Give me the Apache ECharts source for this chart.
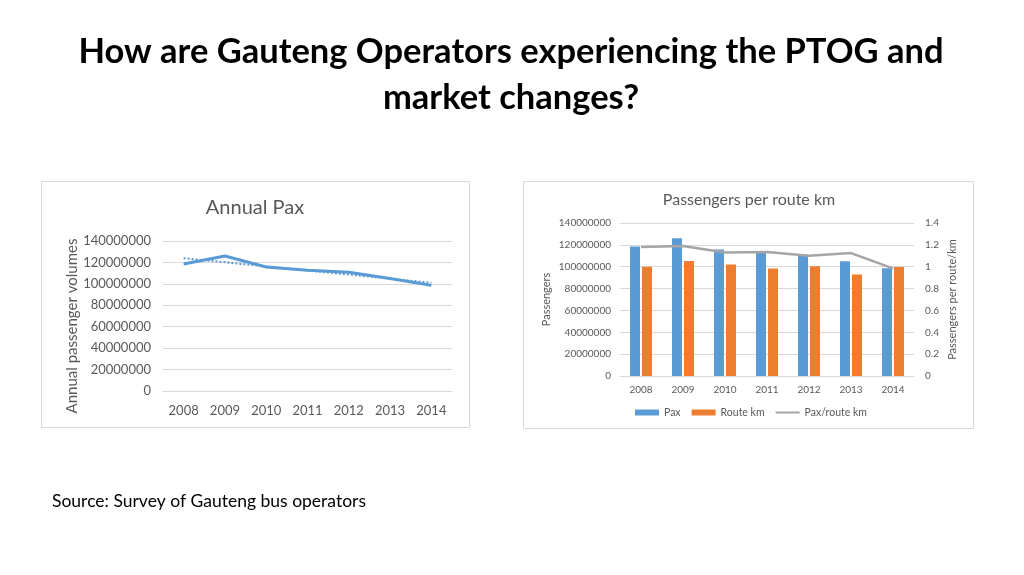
<!DOCTYPE html>
<html>
<head>
<meta charset="utf-8">
<script src="https://cdn.jsdelivr.net/npm/echarts@6/dist/echarts.min.js"></script>
<style>
  html, body { margin: 0; padding: 0; background: #fff; }
  #main { width: 1024px; height: 575px; }
</style>
</head>
<body>
<div id="main"></div>
<script>
// data
var years = ['2008', '2009', '2010', '2011', '2012', '2013', '2014'];
var pax = [118600000, 126000000, 115800000, 112700000, 110900000, 105000000, 98600000];
var routeKm = [100000000, 105300000, 102000000, 98300000, 100500000, 92800000, 99800000];
var paxPerKm = [1.18, 1.19, 1.13, 1.135, 1.10, 1.125, 0.985];
// dotted trend line: only its two end points
var paxTrend = [124000000, '-', '-', '-', '-', '-', 101000000];

var font = 'Lato, "Open Sans", sans-serif';
var grey = '#595959';
var gridLine = '#d9d9d9';

function plain(v) { return String(v); }

var myChart = echarts.init(document.getElementById('main'));

var option = {
    backgroundColor: '#fff',
    animation: false,
    textStyle: { fontFamily: font },
    graphic: [
        { type: 'rect', shape: { x: 41.5, y: 181.5, width: 428, height: 246 },
          style: { fill: '#fff', stroke: gridLine, lineWidth: 1 }, z: -10 },
        { type: 'rect', shape: { x: 523.5, y: 181.5, width: 450, height: 247 },
          style: { fill: '#fff', stroke: gridLine, lineWidth: 1 }, z: -10 }
    ],
    title: [
        {
            text: 'How are Gauteng Operators experiencing the PTOG and\nmarket changes?',
            left: 506, top: 24, textAlign: 'center',
            textStyle: { fontFamily: font, fontWeight: 'bold', fontSize: 34.5, lineHeight: 46, color: '#000' }
        },
        {
            text: 'Annual Pax',
            left: 250, top: 191, textAlign: 'center',
            textStyle: { fontFamily: font, fontWeight: 'normal', fontSize: 20, lineHeight: 24, color: grey }
        },
        {
            text: 'Passengers per route km',
            left: 744, top: 185, textAlign: 'center',
            textStyle: { fontFamily: font, fontWeight: 'normal', fontSize: 16, lineHeight: 20, color: grey }
        },
        {
            text: 'Source: Survey of Gauteng bus operators',
            left: 47, top: 486,
            textStyle: { fontFamily: font, fontWeight: 'normal', fontSize: 17.5, lineHeight: 20, color: '#000' }
        }
    ],
    legend: {
        data: [
            { name: 'Pax', icon: 'rect' },
            { name: 'Route km', icon: 'rect' },
            { name: 'Pax/route km', icon: 'path://M0,0L24,0L24,2L0,2Z' }
        ],
        left: 630, top: 402,
        itemWidth: 24, itemHeight: 6, itemGap: 11,
        textStyle: { fontFamily: font, fontSize: 10.5, color: grey }
    },
    grid: [
        { left: 163, top: 241, width: 289, height: 150 },
        { left: 620, top: 223, width: 294, height: 153 }
    ],
    xAxis: [
        {
            type: 'category', gridIndex: 0, data: years,
            axisLine: { lineStyle: { color: gridLine } },
            axisTick: { show: false },
            axisLabel: { color: grey, fontSize: 13, margin: 13 }
        },
        {
            type: 'category', gridIndex: 1, data: years,
            axisLine: { lineStyle: { color: gridLine } },
            axisTick: { show: false },
            axisLabel: { color: grey, fontSize: 10, margin: 9 }
        }
    ],
    yAxis: [
        {
            type: 'value', gridIndex: 0, min: 0, max: 140000000, interval: 20000000,
            name: 'Annual passenger volumes', nameLocation: 'middle', nameGap: 82,
            nameTextStyle: { color: grey, fontSize: 15, padding: [0, 20, 0, 0] },
            axisLine: { show: false }, axisTick: { show: false },
            axisLabel: { color: grey, fontSize: 13, margin: 12, formatter: plain },
            splitLine: { lineStyle: { color: gridLine } }
        },
        {
            type: 'value', gridIndex: 1, min: 0, max: 140000000, interval: 20000000,
            name: 'Passengers', nameLocation: 'middle', nameGap: 68,
            nameTextStyle: { color: grey, fontSize: 11 },
            axisLine: { show: false }, axisTick: { show: false },
            axisLabel: { color: grey, fontSize: 10, margin: 9, formatter: plain },
            splitLine: { lineStyle: { color: gridLine } }
        },
        {
            type: 'value', gridIndex: 1, position: 'right', min: 0, max: 1.4, interval: 0.2,
            name: 'Passengers per route/km', nameLocation: 'middle', nameGap: 33,
            nameTextStyle: { color: grey, fontSize: 11 },
            axisLine: { show: false }, axisTick: { show: false },
            axisLabel: { color: grey, fontSize: 10, margin: 11, formatter: plain },
            splitLine: { show: false }
        }
    ],
    series: [
        {
            name: 'Annual pax', type: 'line', xAxisIndex: 0, yAxisIndex: 0,
            data: pax, symbol: 'none',
            lineStyle: { color: '#5b9bd5', width: 3 }, itemStyle: { color: '#5b9bd5' }
        },
        {
            name: 'Linear trend', type: 'line', xAxisIndex: 0, yAxisIndex: 0,
            data: paxTrend, connectNulls: true, symbol: 'none',
            lineStyle: { color: '#5b9bd5', width: 2, type: 'dotted' }
        },
        {
            name: 'Pax', type: 'bar', xAxisIndex: 1, yAxisIndex: 1,
            data: pax, barWidth: 10, barGap: '20%',
            itemStyle: { color: '#5b9bd5' }
        },
        {
            name: 'Route km', type: 'bar', xAxisIndex: 1, yAxisIndex: 1,
            data: routeKm, barWidth: 10, barGap: '20%',
            itemStyle: { color: '#ed7d31' }
        },
        {
            name: 'Pax/route km', type: 'line', xAxisIndex: 1, yAxisIndex: 2,
            data: paxPerKm, symbol: 'none',
            lineStyle: { color: '#a5a5a5', width: 2.5 }, itemStyle: { color: '#a5a5a5' }
        }
    ]
};

myChart.setOption(option);
</script>
</body>
</html>
